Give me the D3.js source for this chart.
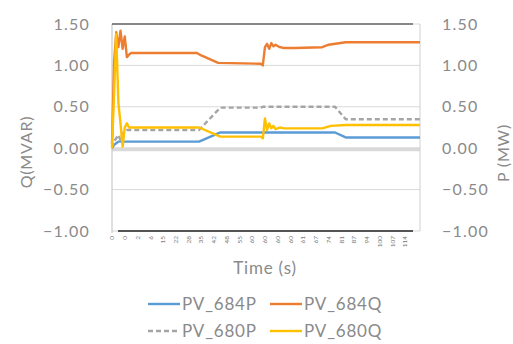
<!DOCTYPE html>
<html><head><meta charset="utf-8">
<script src="https://cdn.jsdelivr.net/npm/d3@7/dist/d3.min.js"></script>
<style>
html,body{margin:0;padding:0;background:#fff;}
svg{display:block;}
text{font-family:Lato,"Open Sans",sans-serif;}
</style></head>
<body><svg id="c" width="513" height="344"></svg>
<script>
// ---- data ----
const nSamples = 146;            // samples on category axis (index 0..145)
const labelEvery = 6;            // a tick label every 6 samples
const tickLabels = ["0","0","2","6","15","22","28","35","42","48","55","60","60","60","60","61","67","74","81","87","94","100","107","114"];
const yTicks = [-1.0,-0.5,0.0,0.5,1.0,1.5];

const seriesNames = ["PV_684P","PV_684Q","PV_680P","PV_680Q"];
// sample index, value
const pv684P_idx = [0,1,2,3,41,51,105,110,145];
const pv684P_val = [0.00,0.04,0.06,0.08,0.08,0.19,0.19,0.13,0.13];

const pv684Q_idx = [0,1,2,3,4,5,6,7,8,9,40,42,50,70,71,72,73,74,75,76,77,79,81,86,99,102,110,145];
const pv684Q_val = [0.05,1.05,1.40,1.22,1.42,1.20,1.35,1.10,1.13,1.15,1.15,1.12,1.03,1.02,1.00,1.22,1.26,1.20,1.27,1.23,1.25,1.22,1.21,1.21,1.22,1.25,1.28,1.28];

const pv680P_idx = [0,1,2,3,4,5,7,41,51,70,71,105,110,145];
const pv680P_val = [0.00,0.08,0.12,0.16,0.10,0.18,0.22,0.22,0.49,0.49,0.50,0.50,0.35,0.35];

const pv680Q_idx = [0,1,2,3,4,5,6,7,8,41,51,70,71,72,73,74,75,76,77,79,81,99,103,110,145];
const pv680Q_val = [0.00,0.68,1.38,0.55,0.30,0.02,0.25,0.30,0.25,0.25,0.14,0.14,0.12,0.36,0.22,0.30,0.24,0.27,0.23,0.25,0.24,0.24,0.27,0.28,0.28];

const colors = ["#5b9bd5","#ed7d31","#a5a5a5","#ffc000"];
const dashes = [null,null,"5,3",null];

const series = [
  {name:seriesNames[0], idx:pv684P_idx, val:pv684P_val},
  {name:seriesNames[1], idx:pv684Q_idx, val:pv684Q_val},
  {name:seriesNames[2], idx:pv680P_idx, val:pv680P_val},
  {name:seriesNames[3], idx:pv680Q_idx, val:pv680Q_val}
];

// ---- layout ----
const L = 112, R = 420, T = 24, B = 231;
const svg = d3.select("#c");
const x = d3.scaleLinear().domain([0, nSamples-1]).range([L, R]);
const y = d3.scaleLinear().domain([-1, 1.5]).range([B, T]);
const grey = "#8a8a8a";

// gridlines
svg.append("g").selectAll("line").data(yTicks.filter(v=>v!==0)).join("line")
  .attr("x1",L).attr("x2",R).attr("y1",d=>y(d)).attr("y2",d=>y(d))
  .attr("stroke","#d9d9d9").attr("stroke-width",1);
// zero line
svg.append("line").attr("x1",L).attr("x2",R).attr("y1",y(0)+1).attr("y2",y(0)+1)
  .attr("stroke","#d9d9d9").attr("stroke-width",4);
// plot borders
svg.append("line").attr("x1",L).attr("x2",L).attr("y1",T).attr("y2",B+2).attr("stroke","#bfbfbf").attr("stroke-width",1);
svg.append("line").attr("x1",R).attr("x2",R).attr("y1",T).attr("y2",B).attr("stroke","#d0d0d0").attr("stroke-width",1);
svg.append("line").attr("x1",L).attr("x2",413).attr("y1",T).attr("y2",T).attr("stroke","#222").attr("stroke-width",1);
svg.append("line").attr("x1",118).attr("x2",413).attr("y1",B).attr("y2",B).attr("stroke","#222").attr("stroke-width",1.5);

// left axis labels
const fmt = d3.format(".2f");
svg.append("g").selectAll("text").data(yTicks).join("text")
  .attr("x",90).attr("y",d=>y(d)).attr("dy","0.35em").attr("text-anchor","end")
  .attr("font-size",16).attr("letter-spacing",1.2).attr("fill",grey).text(d=>fmt(d));
// right axis labels
svg.append("g").selectAll("text").data(yTicks).join("text")
  .attr("x",442).attr("y",d=>y(d)).attr("dy","0.35em").attr("text-anchor","start")
  .attr("font-size",16).attr("letter-spacing",1.2).attr("fill",grey).text(d=>fmt(d));

// x tick labels
svg.append("g").selectAll("text").data(tickLabels).join("text")
  .attr("transform",(d,i)=>`translate(${x(i*labelEvery)},236) rotate(-90)`)
  .attr("dy","0.35em").attr("text-anchor","end")
  .attr("font-size",6.5).attr("fill","#777").text(d=>d);

// axis titles
svg.append("text").attr("transform","translate(26,152) rotate(-90)").attr("text-anchor","middle")
  .attr("dy","0.35em").attr("font-size",16).attr("letter-spacing",0.8).attr("fill",grey).text("Q(MVAR)");
svg.append("text").attr("transform","translate(503,153) rotate(-90)").attr("text-anchor","middle")
  .attr("dy","0.35em").attr("font-size",16).attr("letter-spacing",0.8).attr("fill",grey).text("P (MW)");
svg.append("text").attr("x",265).attr("y",268).attr("dy","0.35em").attr("text-anchor","middle")
  .attr("font-size",17).attr("letter-spacing",0.8).attr("fill",grey).text("Time (s)");

// lines
const line = d3.line().x(d=>x(d[0])).y(d=>y(d[1]));
series.forEach((s,k)=>{
  const pts = s.idx.map((v,i)=>[v, s.val[i]]);
  svg.append("path").datum(pts).attr("d",line).attr("fill","none")
    .attr("stroke",colors[k]).attr("stroke-width",2.4)
    .attr("stroke-linejoin","round")
    .attr("stroke-dasharray",dashes[k]);
});

// legend
const legPos = [[148,304],[270,304],[148,331],[270,331]];
series.forEach((s,k)=>{
  const [lx,ly] = legPos[k];
  svg.append("line").attr("x1",lx).attr("x2",lx+32).attr("y1",ly).attr("y2",ly)
    .attr("stroke",colors[k]).attr("stroke-width",2.4).attr("stroke-dasharray",dashes[k]);
  svg.append("text").attr("x",lx+34).attr("y",ly).attr("dy","0.35em")
    .attr("font-size",17).attr("letter-spacing",0.8).attr("fill",grey).text(s.name);
});
</script></body></html>
